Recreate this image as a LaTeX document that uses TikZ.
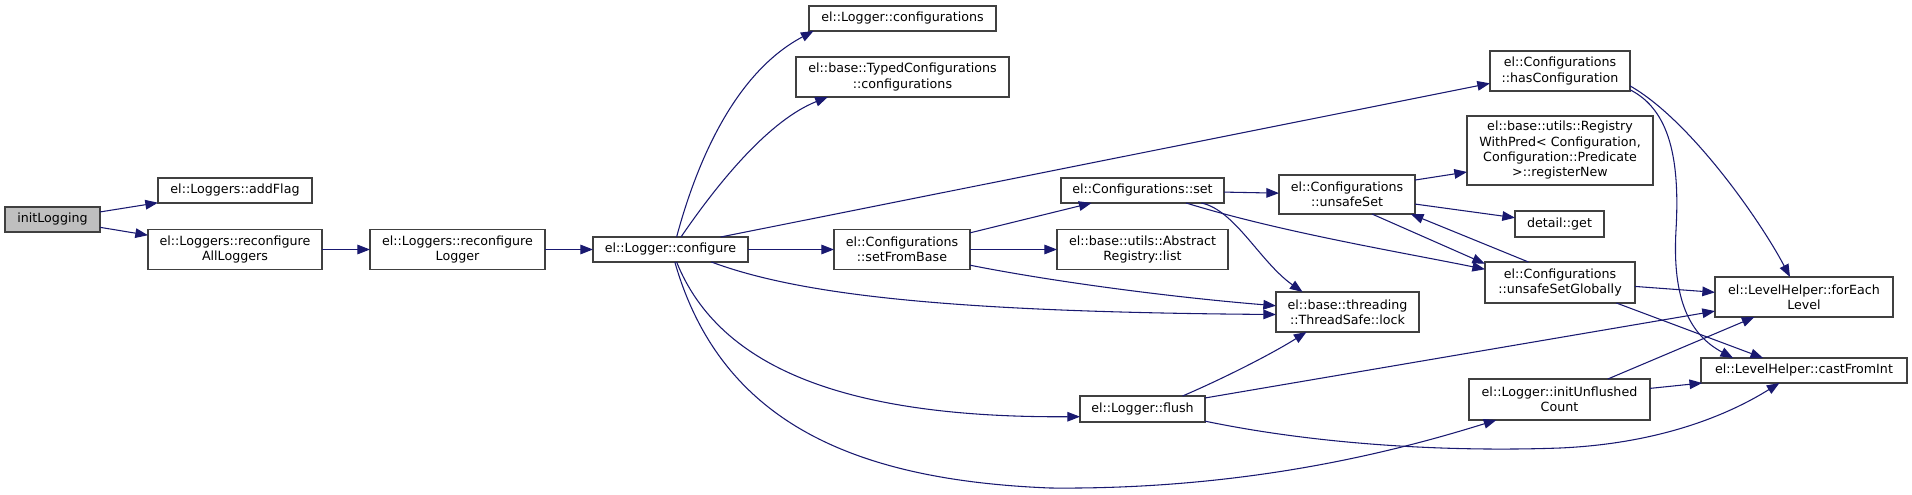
\documentclass[tikz,border=0pt]{standalone}
\usepackage{fontspec}
\setmainfont{DejaVu Sans}
\usetikzlibrary{arrows.meta}
\definecolor{edgeblue}{RGB}{25,25,112}
\definecolor{boxgray}{RGB}{64,64,64}
\definecolor{rootfill}{RGB}{191,191,191}
\tikzset{
  call box/.style={
    rectangle, draw=boxgray, line width=0.85pt, fill=white,
    align=center, inner sep=1pt, outer sep=0pt,
    font=\fontsize{9.5pt}{11.5pt}\selectfont
  },
  root box/.style={call box, fill=rootfill},
  box size/.style 2 args={minimum width=#1*0.75pt, minimum height=#2*0.75pt},
  call edge/.style={-{Triangle[length=9.5pt, width=7.2pt]}, line width=0.8pt, edgeblue}
}

\begin{document}
\begin{tikzpicture}[x=0.75pt, y=-0.75pt]
    \useasboundingbox (0,0) rectangle (1912,495);
    \node[root box, box size={95}{25}] (initLogging) at (52.5,219.5) {initLogging};
    \node[call box, box size={154}{25}] (addFlag) at (235,190.5) {el::Loggers::addFlag};
    \node[call box, box size={174}{40}] (reconfAll) at (235,249.5) {el::Loggers::reconfigure\\AllLoggers};
    \node[call box, box size={175}{40}] (reconfLogger) at (457.5,249.5) {el::Loggers::reconfigure\\Logger};
    \node[call box, box size={155}{25}] (configure) at (670.5,249.5) {el::Logger::configure};
    \node[call box, box size={187}{25}] (loggerConfs) at (902.5,18.5) {el::Logger::configurations};
    \node[call box, box size={213}{40}] (typedConfs) at (902.5,77) {el::base::TypedConfigurations\\::configurations};
    \node[call box, box size={136}{40}] (setFromBase) at (902,249.5) {el::Configurations\\::setFromBase};
    \node[call box, box size={163}{25}] (confSet) at (1142.5,190.5) {el::Configurations::set};
    \node[call box, box size={171}{40}] (regList) at (1142.5,249.5) {el::base::utils::Abstract\\Registry::list};
    \node[call box, box size={143}{40}] (lock) at (1347.5,312) {el::base::threading\\::ThreadSafe::lock};
    \node[call box, box size={125}{26}] (flush) at (1142.5,409) {el::Logger::flush};
    \node[call box, box size={136}{39}] (unsafeSet) at (1347,194.5) {el::Configurations\\::unsafeSet};
    \node[call box, box size={140}{40}] (hasConf) at (1560,71) {el::Configurations\\::hasConfiguration};
    \node[call box, box size={186}{69}] (registerNew) at (1560,150.5) {el::base::utils::Registry\\WithPred< Configuration,\\Configuration::Predicate\\ >::registerNew};
    \node[call box, box size={89}{26}] (detailGet) at (1559.5,224) {detail::get};
    \node[call box, box size={150}{41}] (unsafeGlobal) at (1560,282.5) {el::Configurations\\::unsafeSetGlobally};
    \node[call box, box size={181}{41}] (initUnflushed) at (1559.5,399.5) {el::Logger::initUnflushed\\Count};
    \node[call box, box size={178}{40}] (forEach) at (1804,297) {el::LevelHelper::forEach\\Level};
    \node[call box, box size={206}{25}] (castFromInt) at (1804,370.5) {el::LevelHelper::castFromInt};

    \draw[call edge] (initLogging) -- (addFlag);
    \draw[call edge] (initLogging) -- (reconfAll);
    \draw[call edge] (reconfAll) -- (reconfLogger);
    \draw[call edge] (reconfLogger) -- (configure);
    \draw[call edge] (configure.64) .. controls (700,150) and (740,70) .. (loggerConfs.188);
    \draw[call edge] (configure.50) .. controls (720,180) and (770,120) .. (typedConfs.195);
    \draw[call edge] (configure.14) -- (hasConf.190);
    \draw[call edge] (configure) -- (setFromBase);
    \draw[call edge] (configure.-17) .. controls (800,295) and (950,312) .. (lock.182);
    \draw[call edge] (configure.-64) .. controls (720,370) and (850,418) .. (flush.187);
    \draw[call edge] (configure.-71) .. controls (720,420) and (850,480) .. (1050,488)
      .. controls (1250,490) and (1400,450) .. (initUnflushed.198);
    \draw[call edge] (setFromBase) -- (confSet);
    \draw[call edge] (setFromBase) -- (regList);
    \draw[call edge] (setFromBase.-13) .. controls (1060,283) and (1180,298) .. (lock.175);
    \draw[call edge] (confSet) -- (unsafeSet);
    \draw[call edge] (confSet.-12) .. controls (1235,210) and (1260,262) .. (lock.156);
    \draw[call edge] (confSet.-16) .. controls (1280,232) and (1400,252) .. (unsafeGlobal.170);
    \draw[call edge] (unsafeSet.12) -- (registerNew.193);
    \draw[call edge] (unsafeSet.-8) -- (detailGet.172);
    \draw[call edge] (unsafeSet.-38) -- (unsafeGlobal.166);
    \draw[call edge] (unsafeGlobal.147) -- (unsafeSet.-17);
    \draw[call edge] (unsafeGlobal.-3) -- (forEach.177);
    \draw[call edge] (unsafeGlobal.-20) -- (castFromInt.163);
    \draw[call edge] (hasConf.-12) .. controls (1690,120) and (1760,220) .. (forEach.125);
    \draw[call edge] (hasConf.-15) .. controls (1670,110) and (1680,160) .. (1676,230)
      .. controls (1672,300) and (1690,335) .. (castFromInt.170);
    \draw[call edge] (flush.18) .. controls (1220,380) and (1270,355) .. (lock.206);
    \draw[call edge] (flush.10) -- (forEach.189);
    \draw[call edge] (flush.-11) .. controls (1320,445) and (1450,452) .. (1560,448)
      .. controls (1650,444) and (1720,420) .. (castFromInt.207);
    \draw[call edge] (initUnflushed.23) -- (forEach.202);
    \draw[call edge] (initUnflushed.7) -- (castFromInt.187);
  \end{tikzpicture}
\end{document}
